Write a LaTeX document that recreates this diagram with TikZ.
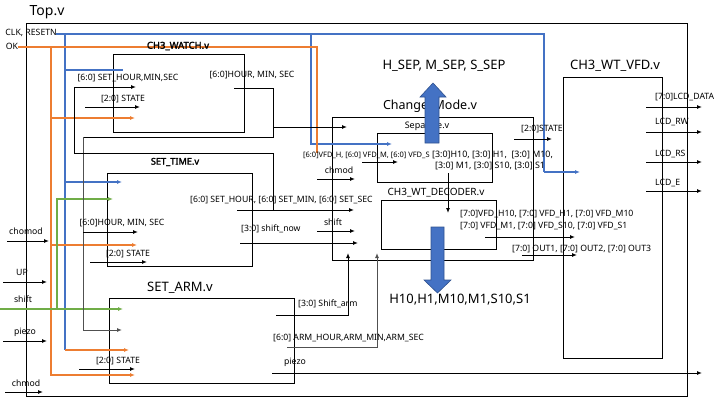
\documentclass[tikz,border=0pt]{standalone}
\usepackage{fontspec}
\setmainfont{Noto Sans}
\newfontfamily\boldlabel{Noto Sans}[FakeBold=2.2]
\usetikzlibrary{arrows.meta}
\definecolor{oblue}{HTML}{4472C4}
\definecolor{oorange}{HTML}{ED7D31}
\definecolor{ogreen}{HTML}{70AD47}
\definecolor{edgeblue}{HTML}{2F528F}
\definecolor{wgray}{HTML}{505050}
\tikzset{
  box/.style={draw, line width=1.2pt, inner sep=0pt, anchor=north west},
  wire/.style={line width=1pt},
  cwire/.style={line width=1.3pt},
  arr/.style={wire, -{Latex[length=5pt,width=4pt]}},
  carr/.style={cwire, -{Latex[length=5pt,width=4pt]}},
  lbl/.style={inner sep=0pt, font=\fontsize{8.7}{10}\selectfont},
  big/.style={inner sep=0pt, font=\fontsize{13}{15}\selectfont},
  blockarrow/.style={fill=oblue, draw=edgeblue, line width=0.6pt},
}
\begin{document}
\begin{tikzpicture}[x=1pt,y=-1pt]
\useasboundingbox (0,0) rectangle (720,405);
% ---------- boxes ----------
\node[box, minimum width=661pt, minimum height=373pt] (top) at (26,23) {};
\node[box, minimum width=131pt, minimum height=78pt] (watch) at (113,54) {};
\node[box, minimum width=145pt, minimum height=93pt] (settime) at (107,173) {};
\node[box, minimum width=185pt, minimum height=85pt] (setarm) at (109,298) {};
\node[box, minimum width=201pt, minimum height=143pt] (change) at (332,117) {};
\node[box, minimum width=115pt, minimum height=49pt] (separate) at (377,133) {};
\node[box, minimum width=115pt, minimum height=49pt] (decoder) at (381,200) {};
\node[box, minimum width=99pt, minimum height=281pt] (vfd) at (563,77) {};
% ---------- coordinates ----------
\coordinate (clkA) at (56,34);
\coordinate (clkB) at (544,34);
\coordinate (clkC) at (544,172);
\coordinate (clkD) at (580,172);
\coordinate (clkV1) at (65,34);
\coordinate (clkV2) at (65,350);
\coordinate (clkW1) at (65,70);
\coordinate (clkW2) at (123,70);
\coordinate (clkT1) at (65,182);
\coordinate (clkT2) at (122,182);
\coordinate (clkM1) at (311,34);
\coordinate (clkM2) at (311,144);
\coordinate (clkM3) at (392,144);
\coordinate (armO) at (129,350);
\coordinate (okA) at (18,47);
\coordinate (okB) at (317,47);
\coordinate (okC) at (317,153);
\coordinate (okV1) at (51,47);
\coordinate (okV2) at (51,375);
\coordinate (okV3) at (135,375);
\coordinate (okW1) at (51,118);
\coordinate (okW2) at (135,118);
\coordinate (okT1) at (51,245);
\coordinate (okT2) at (137,245);
\coordinate (shA) at (0,309);
\coordinate (shB) at (123,309);
\coordinate (shC) at (57,309);
\coordinate (shD) at (57,199);
\coordinate (shE) at (113,199);
\coordinate (hmsA) at (234,88);
\coordinate (hmsB) at (273,88);
\coordinate (hmsC) at (273,137);
\coordinate (hmsD) at (83,137);
\coordinate (hmsE) at (83,330);
\coordinate (hmsF) at (122,330);
\coordinate (hmsG) at (273,127);
\coordinate (hmsH) at (347,127);
\coordinate (hmsI) at (83,232);
\coordinate (hmsJ) at (138,232);
\coordinate (shmA) at (237,210);
\coordinate (shmB) at (354,210);
\coordinate (shmC) at (273,210);
\coordinate (shmD) at (273,153);
\coordinate (shmE) at (74,153);
\coordinate (shmF) at (74,87);
\coordinate (shmG) at (136,87);
\coordinate (arm1) at (276,315);
\coordinate (arm2) at (348,315);
\coordinate (arm3) at (348,253);
\coordinate (arm4) at (287,347);
\coordinate (arm5) at (377,347);
\coordinate (arm6) at (377,253);
% ---------- blue wires ----------
\draw[cwire, oblue] (clkA) -- (clkB) -- (clkC);
\draw[carr, oblue] (clkC) -- (clkD);
\draw[cwire, oblue] (clkV1) -- (clkV2);
\draw[cwire, oblue] (clkW1) -- (clkW2);
\draw[carr, oblue] (clkT1) -- (clkT2);
\draw[carr, oblue] (clkM1) -- (clkM2) -- (clkM3);
% ---------- orange wires ----------
\draw[cwire, oorange] (okA) -- (okB) -- (okC);
\draw[carr, oorange] (okV1) -- (okV2) -- (okV3);
\draw[carr, oorange] (okW1) -- (okW2);
\draw[carr, oorange] (okT1) -- (okT2);
\draw[carr, oorange] (clkV2) -- (armO);
% ---------- green wires ----------
\draw[carr, ogreen] (shA) -- (shB);
\draw[carr, ogreen] (shC) -- (shD) -- (shE);
% ---------- black wires ----------
\draw[wire] (hmsA) -- (hmsB) -- (hmsC) -- (hmsD);
\draw[arr, wgray] (hmsD) -- (hmsE) -- (hmsF);
\draw[arr] (hmsG) -- (hmsH);
\draw[arr] (hmsI) -- (hmsJ);
\draw[arr] (shmA) -- (shmB);
\draw[arr] (shmC) -- (shmD) -- (shmE) -- (shmF) -- (shmG);
\draw[arr] (arm1) -- (arm2) -- (arm3);
\draw[arr, wgray] (arm4) -- (arm5) -- (arm6);
% short arrows
\coordinate (s1a) at (85,107); \coordinate (s1b) at (140,107);
\coordinate (s2a) at (90,262); \coordinate (s2b) at (147,262);
\coordinate (s3a) at (79,369); \coordinate (s3b) at (135,369);
\coordinate (s4a) at (514,139); \coordinate (s4b) at (552,139);
\coordinate (cma) at (317,179); \coordinate (cmb) at (355,179);
\coordinate (sfa) at (317,231); \coordinate (sfb) at (355,231);
\coordinate (sna) at (240,243); \coordinate (snb) at (358,243);
\coordinate (vfa) at (362,162); \coordinate (vfb) at (398,162);
\coordinate (sda) at (448,173); \coordinate (sdb) at (448,213);
\coordinate (d1a) at (485,237); \coordinate (d1b) at (575,237);
\coordinate (d2a) at (522,255); \coordinate (d2b) at (577,255);
\coordinate (l1a) at (646,107); \coordinate (l1b) at (702,107);
\coordinate (l2a) at (646,132); \coordinate (l2b) at (702,132);
\coordinate (l3a) at (646,162); \coordinate (l3b) at (702,162);
\coordinate (l4a) at (646,191); \coordinate (l4b) at (702,191);
\coordinate (i1a) at (7,241); \coordinate (i1b) at (49,241);
\coordinate (i2a) at (3,282); \coordinate (i2b) at (47,282);
\coordinate (i3a) at (3,341); \coordinate (i3b) at (47,341);
\coordinate (i4a) at (5,392); \coordinate (i4b) at (43,392);
\coordinate (pza) at (272,373); \coordinate (pzb) at (702,373);
\foreach \a/\b in {s1a/s1b,s2a/s2b,s3a/s3b,s4a/s4b,cma/cmb,sfa/sfb,sna/snb,vfa/vfb,sda/sdb,d1a/d1b,d2a/d2b,l1a/l1b,l2a/l2b,l3a/l3b,l4a/l4b,i1a/i1b,i2a/i2b,i3a/i3b,i4a/i4b,pza/pzb}
  \draw[arr] (\a) -- (\b);
% ---------- titles ----------
\node[inner sep=0pt, font=\fontsize{14}{16}\selectfont] (ttop) at (47,12) {Top.v};
\node[inner sep=0pt, font=\fontsize{9.5}{11}\boldlabel] (twatch) at (178,46) {CH3\_WATCH.v};
\node[inner sep=0pt, font=\fontsize{9.2}{11}\boldlabel] (tsettime) at (175,162) {SET\_TIME.v};
\node[big] (tsetarm) at (180,288) {SET\_ARM.v};
\node[big, font=\fontsize{12.5}{15}\selectfont] (tchange) at (430,106) {Change\_Mode.v};
\node[inner sep=0pt, font=\fontsize{9}{11}\selectfont] (tsep) at (427,126) {Separate.v};
\node[inner sep=0pt, font=\fontsize{10}{12}\selectfont] (tdec) at (436,193) {CH3\_WT\_DECODER.v};
\node[big] (tvfd) at (615,66) {CH3\_WT\_VFD.v};
% ---------- block arrows ----------
\draw[blockarrow] (425,143) -- (425,97) -- (420,97) -- (433,83) -- (446,97) -- (439,97) -- (439,143) -- cycle;
\draw[blockarrow] (431,227) -- (431,280) -- (424,280) -- (437.5,293) -- (451,280) -- (444,280) -- (444,227) -- cycle;
% ---------- labels ----------
\node[lbl, anchor=east] (lclk) at (57,33) {CLK, RESETN};
\node[lbl] (lok) at (12,46) {OK};
\node[lbl] (lw1) at (128,78) {[6:0] SET\_HOUR,MIN,SEC};
\node[lbl] (lw2) at (123,99) {[2:0] STATE};
\node[lbl] (lw3) at (252,75) {[6:0]HOUR, MIN, SEC};
\node[lbl] (lt1) at (122,223) {[6:0]HOUR, MIN, SEC};
\node[lbl] (lt2) at (128,254) {[2:0] STATE};
\node[lbl, anchor=west] (lt3) at (190,200) {[6:0] SET\_HOUR, [6:0] SET\_MIN, [6:0] SET\_SEC};
\node[lbl, anchor=west] (lt4) at (241,229) {[3:0] shift\_now};
\node[lbl] (lc1) at (339,170) {chmod};
\node[lbl] (lc2) at (333,222) {shift};
\node[lbl, anchor=west, font=\fontsize{7.5}{9}\selectfont] (lc3) at (303,155) {[6:0]VFD\_H, [6:0] VFD\_M, [6:0] VFD\_S};
\node[lbl, anchor=west, font=\fontsize{8.9}{10}\selectfont] (lc4) at (432,155) {[3:0]H10, [3:0] H1,\ \ [3:0] M10,};
\node[lbl, anchor=west, font=\fontsize{8.9}{10}\selectfont] (lc5) at (435,166) {[3:0] M1, [3:0] S10, [3:0] S1};
\node[lbl, anchor=west] (lc6) at (460,214) {[7:0]VFD\_H10, [7:0] VFD\_H1, [7:0] VFD\_M10};
\node[lbl, anchor=west] (lc7) at (460,226) {[7:0] VFD\_M1, [7:0] VFD\_S10, [7:0] VFD\_S1};
\node[lbl, anchor=west] (lc8) at (512,249) {[7:0] OUT1, [7:0] OUT2, [7:0] OUT3};
\node[lbl] (lc9) at (542,129) {[2:0]STATE};
\node[big] (lsep) at (444,66) {H\_SEP, M\_SEP, S\_SEP};
\node[big] (lout) at (460,300) {H10,H1,M10,M1,S10,S1};
\node[lbl, anchor=west] (lv1) at (655,97) {[7:0]LCD\_DATA};
\node[lbl, anchor=west] (lv2) at (655,122) {LCD\_RW};
\node[lbl, anchor=west] (lv3) at (655,154) {LCD\_RS};
\node[lbl, anchor=west] (lv4) at (655,183) {LCD\_E};
\node[lbl, anchor=west] (la1) at (298,304) {[3:0] Shift\_arm};
\node[lbl, anchor=west] (la2) at (273,338) {[6:0] ARM\_HOUR,ARM\_MIN,ARM\_SEC};
\node[lbl] (la3) at (295,362) {piezo};
\node[lbl] (la4) at (118,361) {[2:0] STATE};
\node[lbl] (li1) at (26,231) {chomod};
\node[lbl] (li2) at (22,272) {UP};
\node[lbl] (li3) at (23,299) {shift};
\node[lbl] (li4) at (25,332) {piezo};
\node[lbl] (li5) at (26,383) {chmod};
\end{tikzpicture}
\end{document}
